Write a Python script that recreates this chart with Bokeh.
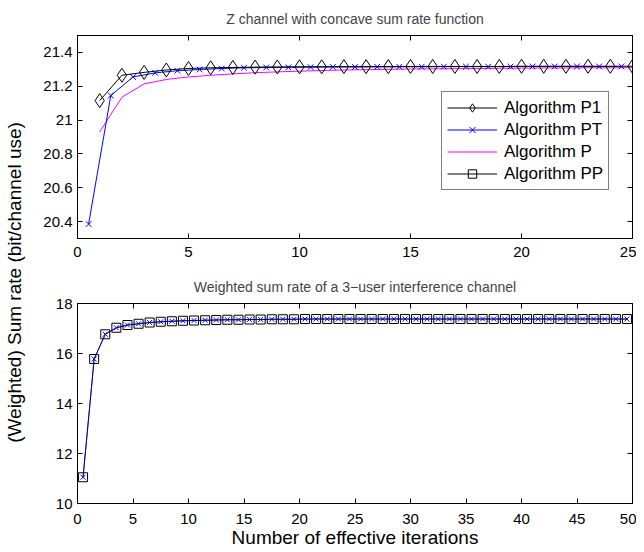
import numpy as np
from bokeh.plotting import figure
from bokeh.layouts import row, column
from bokeh.models import (ColumnDataSource, Legend, LegendItem, LinearAxis, FixedTicker,
                          Range1d, Label, CustomJSTickFormatter)
from bokeh.embed import file_html
from bokeh.resources import INLINE

FONT = "Liberation Sans"

# ---------------- data: top panel (Z channel) ----------------
top_title = "Z channel with concave sum rate function"
top_p1_x = [1, 2, 3, 4, 5, 6, 7, 8, 9, 10, 11, 12, 13, 14, 15, 16, 17, 18, 19, 20, 21, 22, 23, 24, 25]
top_p1_y = [21.115, 21.265, 21.282, 21.296, 21.305, 21.309, 21.311, 21.313, 21.314, 21.315,
            21.315, 21.316, 21.316, 21.316, 21.317, 21.317, 21.317, 21.317, 21.317, 21.318,
            21.318, 21.318, 21.318, 21.318, 21.318]
top_pt_x = [0.5, 1.5, 2.5, 3.5, 4.5, 5.5, 6.5, 7.5, 8.5, 9.5, 10.5, 11.5, 12.5, 13.5, 14.5,
            15.5, 16.5, 17.5, 18.5, 19.5, 20.5, 21.5, 22.5, 23.5, 24.5]
top_pt_y = [20.385, 21.145, 21.255, 21.279, 21.292, 21.299, 21.305, 21.309, 21.311, 21.312,
            21.313, 21.314, 21.314, 21.315, 21.315, 21.315, 21.316, 21.316, 21.316, 21.316,
            21.317, 21.317, 21.317, 21.317, 21.317]
top_p_x = [1, 2, 3, 4, 5, 6, 7, 8, 9, 10, 11, 12, 13, 14, 15, 16, 17, 18, 19, 20, 21, 22, 23, 24, 25]
top_p_y = [20.93, 21.135, 21.214, 21.24, 21.255, 21.265, 21.273, 21.28, 21.285, 21.289,
           21.293, 21.296, 21.298, 21.300, 21.302, 21.303, 21.304, 21.305, 21.306, 21.307,
           21.308, 21.308, 21.309, 21.309, 21.310]
# Algorithm PP shows no visible points in the top panel (legend entry only)
top_pp_x = [np.nan]
top_pp_y = [np.nan]
top_xticks = [0, 5, 10, 15, 20, 25]
top_yticks = [20.4, 20.6, 20.8, 21.0, 21.2, 21.4]

# ---------------- data: bottom panel (3-user IC) ----------------
bot_title = "Weighted sum rate of a 3\u2212user interference channel"
bot_x = [0.5 + i for i in range(50)]
bot_pt_y = [11.05, 15.78, 16.77, 17.03, 17.14, 17.19, 17.24, 17.27, 17.29, 17.31,
            17.32, 17.33, 17.34, 17.35, 17.35, 17.36, 17.36, 17.37, 17.37, 17.37,
            17.38, 17.38, 17.38, 17.38, 17.38, 17.38, 17.38, 17.38, 17.38, 17.38,
            17.38, 17.38, 17.38, 17.38, 17.38, 17.38, 17.38, 17.38, 17.38, 17.38,
            17.38, 17.38, 17.38, 17.38, 17.38, 17.38, 17.38, 17.38, 17.38, 17.38]
bot_pp_y = list(bot_pt_y)
bot_xticks = [0, 5, 10, 15, 20, 25, 30, 35, 40, 45, 50]
bot_yticks = [10, 12, 14, 16, 18]

x_label = "Number of effective iterations"
y_label = "(Weighted) Sum rate (bit/channel use)"
legend_labels = ["Algorithm P1", "Algorithm PT", "Algorithm P", "Algorithm PP"]

BLUE = "#0000ff"
MAGENTA = "#ff00ff"
BLACK = "#000000"

fmt = CustomJSTickFormatter(code="return String(Math.round(tick*10)/10);")


def mirror_axis(ticks):
    return LinearAxis(ticker=FixedTicker(ticks=ticks), major_tick_in=5, major_tick_out=0,
                      minor_tick_line_color=None, major_label_text_font_size="1px",
                      major_label_text_color=None, major_label_standoff=0,
                      major_label_overrides={t: "" for t in ticks},
                      axis_line_color=BLACK, major_tick_line_color=BLACK)


def style(p, xticks, yticks):
    p.grid.visible = False
    p.outline_line_color = BLACK
    p.outline_line_width = 1
    p.background_fill_color = "white"
    p.border_fill_color = "white"
    p.title.text_font = FONT
    p.title.text_font_size = "14px"
    p.title.text_font_style = "normal"
    p.title.align = "center"
    p.title.standoff = 17
    for ax in p.xaxis:
        ax.ticker = FixedTicker(ticks=xticks)
    for ax in p.yaxis:
        ax.ticker = FixedTicker(ticks=yticks)
        ax.formatter = fmt
    for ax in list(p.xaxis) + list(p.yaxis):
        ax.major_tick_in = 5
        ax.major_tick_out = 0
        ax.minor_tick_line_color = None
        ax.axis_line_color = BLACK
        ax.major_tick_line_color = BLACK
        ax.major_label_text_font = FONT
        ax.major_label_text_font_size = "15px"
        ax.major_label_text_color = BLACK
        ax.major_label_standoff = 5
    p.add_layout(mirror_axis(yticks), "right")
    p.add_layout(mirror_axis(xticks), "above")


# ---------------- top figure ----------------
top = figure(width=600, height=262, x_range=Range1d(0, 25), y_range=Range1d(20.3, 21.5),
             toolbar_location=None, output_backend="svg", title=top_title,
             min_border_left=41, min_border_right=4, min_border_top=34, min_border_bottom=24)
style(top, top_xticks, top_yticks)
top.below[0].major_label_standoff = 8

s_p1 = ColumnDataSource(dict(x=top_p1_x, y=top_p1_y))
s_pt = ColumnDataSource(dict(x=top_pt_x, y=top_pt_y))
s_p = ColumnDataSource(dict(x=top_p_x, y=top_p_y))
s_pp = ColumnDataSource(dict(x=np.array(top_pp_x), y=np.array(top_pp_y)))

r_p_l = top.line("x", "y", source=s_p, line_color=MAGENTA, line_width=1)
r_pt_l = top.line("x", "y", source=s_pt, line_color=BLUE, line_width=1)
r_pt_m = top.scatter("x", "y", source=s_pt, marker="x", size=8, line_color=BLUE, line_width=1)
r_p1_l = top.line("x", "y", source=s_p1, line_color=BLACK, line_width=1)
r_p1_m = top.scatter("x", "y", source=s_p1, marker="diamond", size=14, line_color=BLACK,
                     fill_color=None, line_width=1)
r_pp_l = top.line("x", "y", source=s_pp, line_color=BLACK, line_width=1)
r_pp_m = top.scatter("x", "y", source=s_pp, marker="square", size=8, line_color=BLACK,
                     fill_color=None, line_width=1)

legend = Legend(items=[
    LegendItem(label=legend_labels[0], renderers=[r_p1_l, r_p1_m]),
    LegendItem(label=legend_labels[1], renderers=[r_pt_l, r_pt_m]),
    LegendItem(label=legend_labels[2], renderers=[r_p_l]),
    LegendItem(label=legend_labels[3], renderers=[r_pp_l, r_pp_m]),
], location=(364, 48), orientation="vertical")
legend.label_text_font = FONT
legend.label_text_font_size = "17px"
legend.label_text_color = BLACK
legend.glyph_width = 50
legend.glyph_height = 21
legend.label_height = 21
legend.label_standoff = 7
legend.spacing = 1
legend.padding = 5
legend.margin = 0
legend.border_line_color = BLACK
legend.border_line_width = 1
legend.background_fill_color = "white"
legend.background_fill_alpha = 1
top.add_layout(legend)

# ---------------- bottom figure ----------------
bot = figure(width=600, height=288, x_range=Range1d(0, 50), y_range=Range1d(10, 18),
             toolbar_location=None, output_backend="svg", title=bot_title,
             min_border_left=41, min_border_right=4, min_border_top=41, min_border_bottom=46)
style(bot, bot_xticks, bot_yticks)
xax = bot.below[0]
xax.major_label_standoff = 10
xax.axis_label = x_label
xax.axis_label_text_font = FONT
xax.axis_label_text_font_size = "19px"
xax.axis_label_text_font_style = "normal"
xax.axis_label_text_color = BLACK
xax.axis_label_standoff = 0

sb_pt = ColumnDataSource(dict(x=bot_x, y=bot_pt_y))
sb_pp = ColumnDataSource(dict(x=bot_x, y=bot_pp_y))
bot.line("x", "y", source=sb_pp, line_color=BLACK, line_width=1)
bot.scatter("x", "y", source=sb_pp, marker="square", size=9, line_color=BLACK,
            fill_color=None, line_width=1)
bot.line("x", "y", source=sb_pt, line_color=BLUE, line_width=1, line_alpha=0.6)
bot.scatter("x", "y", source=sb_pt, marker="x", size=7, line_color=BLUE, line_width=1)

# ---------------- shared y label ----------------
lf = figure(width=36, height=550, x_range=Range1d(0, 36), y_range=Range1d(0, 550),
            toolbar_location=None, output_backend="svg", x_axis_type=None, y_axis_type=None,
            min_border=0)
lf.grid.visible = False
lf.outline_line_color = None
lf.add_layout(Label(x=14, y=268, text=y_label, angle=np.pi / 2, text_align="center",
                    text_baseline="middle", text_font=FONT, text_font_size="19px",
                    text_color=BLACK))

layout = row(lf, column(top, bot))
open("out.html", "w").write(file_html(layout, INLINE))
